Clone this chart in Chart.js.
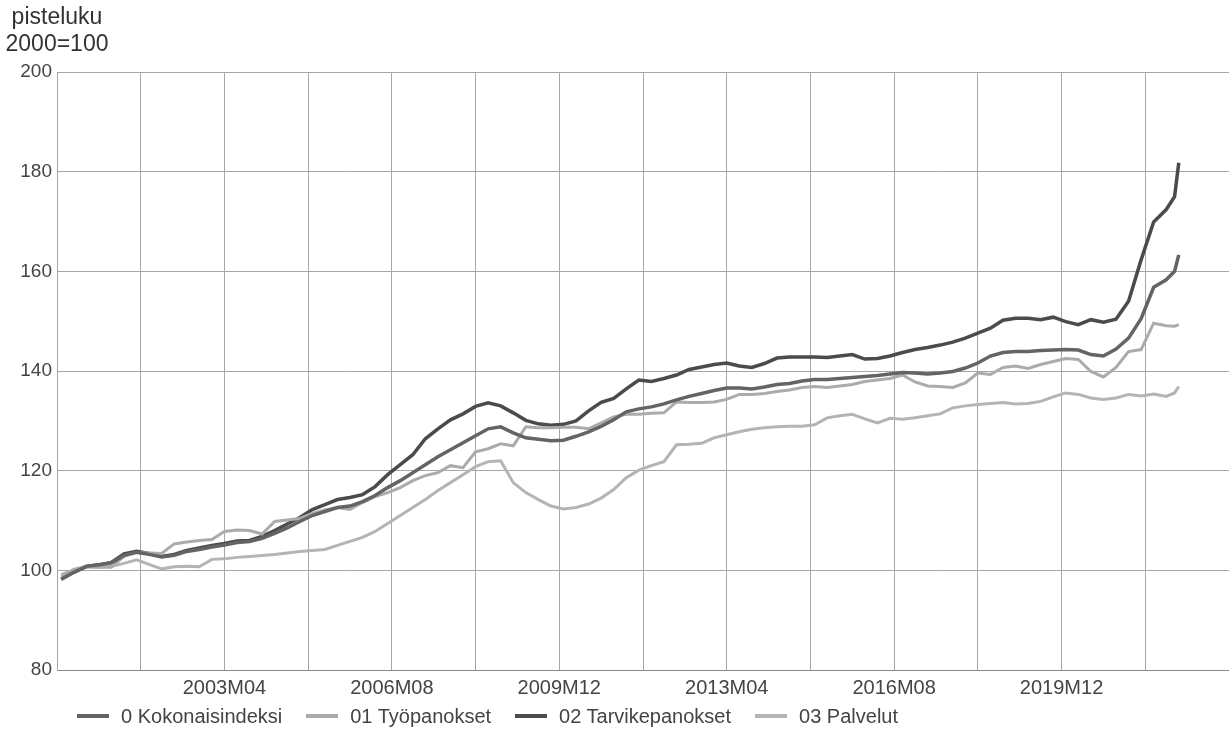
<!DOCTYPE html>
<html>
<head>
<meta charset="utf-8">
<title>Rakennuskustannusindeksi</title>
<script src="https://cdn.jsdelivr.net/npm/chart.js@4.4.1/dist/chart.umd.min.js"></script>
<style>
  html, body { margin: 0; padding: 0; background: #fff; }
  .wrap { position: relative; width: 1229px; height: 733px; overflow: hidden; }
  #chart { display: block; }
  #legend {
    position: absolute; left: 77px; top: 704px;
    display: flex; align-items: center;
    font: 20px "Liberation Sans", Arial, sans-serif; line-height: 24px; color: #444;
    white-space: nowrap;
  }
  #legend .item { display: flex; align-items: center; margin-right: 24px; }
  #legend .swatch { width: 32px; height: 4px; margin-right: 12px; }
</style>
</head>
<body>
<div class="wrap">
  <canvas id="chart" width="1229" height="733"></canvas>
  <div id="legend"></div>
</div>
<script>
// quarterly readings, the last points are the latest months
const months = [
    "2000M01", "2000M04", "2000M07", "2000M10", "2001M01", "2001M04", "2001M07", "2001M10",
    "2002M01", "2002M04", "2002M07", "2002M10", "2003M01", "2003M04", "2003M07", "2003M10",
    "2004M01", "2004M04", "2004M07", "2004M10", "2005M01", "2005M04", "2005M07", "2005M10",
    "2006M01", "2006M04", "2006M07", "2006M10", "2007M01", "2007M04", "2007M07", "2007M10",
    "2008M01", "2008M04", "2008M07", "2008M10", "2009M01", "2009M04", "2009M07", "2009M10",
    "2010M01", "2010M04", "2010M07", "2010M10", "2011M01", "2011M04", "2011M07", "2011M10",
    "2012M01", "2012M04", "2012M07", "2012M10", "2013M01", "2013M04", "2013M07", "2013M10",
    "2014M01", "2014M04", "2014M07", "2014M10", "2015M01", "2015M04", "2015M07", "2015M10",
    "2016M01", "2016M04", "2016M07", "2016M10", "2017M01", "2017M04", "2017M07", "2017M10",
    "2018M01", "2018M04", "2018M07", "2018M10", "2019M01", "2019M04", "2019M07", "2019M10",
    "2020M01", "2020M04", "2020M07", "2020M10", "2021M01", "2021M04", "2021M07", "2021M10",
    "2022M01", "2022M03", "2022M04"
];

const kokonais = [
    98.2, 99.6, 100.8, 101.1, 101.5, 103.0, 103.6, 103.2, 102.7, 103.0,
    103.8, 104.2, 104.7, 105.1, 105.6, 105.8, 106.4, 107.4, 108.5, 109.8,
    111.0, 111.8, 112.6, 112.9, 113.8, 115.0, 116.6, 118.0, 119.6, 121.2,
    122.8, 124.2, 125.6, 127.0, 128.4, 128.8, 127.6, 126.6, 126.3, 126.0,
    126.1, 126.9, 127.8, 128.9, 130.2, 131.8, 132.4, 132.8, 133.4, 134.2,
    134.9, 135.5, 136.1, 136.6, 136.6, 136.4, 136.8, 137.3, 137.5, 138.0,
    138.3, 138.3, 138.5, 138.7, 138.9, 139.1, 139.4, 139.7, 139.6, 139.4,
    139.6, 139.9, 140.6, 141.6, 143.0, 143.7, 143.9, 143.9, 144.1, 144.2,
    144.3, 144.2, 143.3, 143.0, 144.4, 146.6, 150.5, 156.8, 158.3, 160.0,
    163.3
];
const tyopanokset = [
    98.8, 100.2, 100.8, 100.6, 100.6, 102.8, 103.6, 103.5, 103.4, 105.3,
    105.7, 106.0, 106.2, 107.8, 108.1, 108.0, 107.3, 109.8, 110.1, 110.4,
    111.4, 112.1, 112.6, 112.2, 113.6, 114.8, 115.6, 116.6, 118.0, 119.0,
    119.6, 121.0, 120.6, 123.8, 124.4, 125.4, 125.0, 128.8, 128.6, 128.6,
    128.7, 128.7, 128.4, 129.6, 130.8, 131.3, 131.3, 131.5, 131.6, 133.8,
    133.7, 133.7, 133.8, 134.3, 135.3, 135.3, 135.5, 135.9, 136.2, 136.7,
    136.9, 136.7, 137.0, 137.3, 137.9, 138.2, 138.5, 139.2, 137.8, 137.0,
    136.9, 136.7, 137.6, 139.6, 139.3, 140.7, 141.0, 140.5, 141.3, 141.9,
    142.5, 142.3, 139.9, 138.8, 140.7, 143.9, 144.3, 149.6, 149.1, 149.0,
    149.3
];
const tarvikepanokset = [
    98.2, 99.6, 100.8, 101.1, 101.6, 103.3, 103.8, 103.4, 102.8, 103.2,
    104.0, 104.5, 105.0, 105.4, 105.9, 106.0, 106.8, 108.0, 109.3, 110.6,
    112.2, 113.2, 114.2, 114.6, 115.2, 116.8, 119.2, 121.2, 123.2, 126.4,
    128.4, 130.2, 131.4, 132.9, 133.6, 133.0, 131.6, 130.1, 129.4, 129.1,
    129.3, 130.0, 132.0, 133.7, 134.5, 136.4, 138.2, 137.9, 138.5, 139.2,
    140.3, 140.8, 141.3, 141.6, 141.0, 140.7, 141.5, 142.6, 142.8, 142.8,
    142.8, 142.7, 143.0, 143.3, 142.4, 142.5, 143.0, 143.7, 144.3, 144.7,
    145.2, 145.8, 146.6, 147.6, 148.6, 150.2, 150.6, 150.6, 150.3, 150.8,
    149.9, 149.3, 150.3, 149.8, 150.4, 154.0, 162.3, 169.9, 172.4, 175.0,
    181.8
];
const palvelut = [
    99.2, 100.0, 100.6, 100.6, 100.8, 101.4, 102.1, 101.2, 100.3, 100.7,
    100.8, 100.7, 102.2, 102.3, 102.6, 102.8, 103.0, 103.2, 103.5, 103.8,
    104.0, 104.2, 105.0, 105.8, 106.6, 107.8, 109.4, 111.0, 112.6, 114.2,
    116.0, 117.6, 119.2, 120.8, 121.8, 122.0, 117.6, 115.6, 114.2, 112.9,
    112.3, 112.6, 113.3, 114.5, 116.2, 118.6, 120.1, 121.0, 121.8, 125.2,
    125.3, 125.5, 126.6, 127.2, 127.8, 128.3, 128.6, 128.8, 128.9, 128.9,
    129.2, 130.6, 131.0, 131.3, 130.4, 129.6, 130.5, 130.3, 130.6, 131.0,
    131.4, 132.6, 133.0, 133.3, 133.5, 133.7, 133.4, 133.5, 133.9, 134.8,
    135.6, 135.3, 134.6, 134.3, 134.6, 135.3, 135.0, 135.4, 134.9, 135.6,
    136.9
];

const seriesNames = ["0 Kokonaisindeksi", "01 Työpanokset", "02 Tarvikepanokset", "03 Palvelut"];
const seriesColors = ["#646464", "#ababab", "#4b4b4b", "#b4b4b4"];
const seriesWidths = [3.5, 3, 3.5, 3];
const xTickLabels = ["2003M04", "2006M08", "2009M12", "2013M04", "2016M08", "2019M12"];
const yTitleLines = ["pisteluku", "2000=100"];

// month label -> position on x axis (1999M12 = 0)
function monthPos(label) {
    const year = parseInt(label.slice(0, 4), 10);
    const month = parseInt(label.slice(5), 10);
    return (year - 2000) * 12 + month;
}

const xTickPositions = xTickLabels.map(monthPos);
const gridPositions = [];
for (let v = 0; v <= 280; v += 20) gridPositions.push(v);

function toPoints(values) {
    return months.map((m, i) => ({ x: monthPos(m), y: values[i] }));
}

const allSeries = [kokonais, tyopanokset, tarvikepanokset, palvelut];

const yTitlePlugin = {
    id: "yTitle",
    afterDraw(chart) {
        const ctx = chart.ctx;
        ctx.save();
        ctx.font = '23px "Liberation Sans", Arial, sans-serif';
        ctx.fillStyle = "#333";
        ctx.textAlign = "center";
        ctx.textBaseline = "alphabetic";
        ctx.fillText(yTitleLines[0], chart.chartArea.left, 24);
        ctx.fillText(yTitleLines[1], chart.chartArea.left, 51);
        ctx.restore();
    }
};

Chart.defaults.font.family = '"Liberation Sans", Arial, sans-serif';
Chart.defaults.font.size = 20;
Chart.defaults.color = "#444";

const chart = new Chart(document.getElementById("chart").getContext("2d"), {
    type: "line",
    data: {
        datasets: allSeries.map((values, i) => ({
            label: seriesNames[i],
            data: toPoints(values),
            borderColor: seriesColors[i],
            backgroundColor: seriesColors[i],
            borderWidth: seriesWidths[i],
            pointRadius: 0,
            tension: 0,
            fill: false
        }))
    },
    options: {
        responsive: false,
        animation: false,
        devicePixelRatio: 1,
        layout: { padding: { top: 72, right: 0, left: 0, bottom: 35 } },
        plugins: {
            tooltip: { enabled: false },
            legend: { display: false }
        },
        scales: {
            x: {
                type: "linear",
                min: 0,
                max: 280,
                afterBuildTicks: scale => {
                    scale.ticks = gridPositions.map(v => ({ value: v }));
                },
                afterFit: scale => {
                    scale.height = 28;
                    scale.paddingLeft = 0;
                    scale.paddingRight = 0;
                },
                ticks: {
                    autoSkip: false,
                    maxRotation: 0,
                    padding: 6,
                    callback: value => {
                        const k = xTickPositions.indexOf(value);
                        return k >= 0 ? xTickLabels[k] : "";
                    }
                },
                grid: { color: "#a6a6a6", lineWidth: 1, drawTicks: false },
                border: { color: "#888", width: 1 }
            },
            y: {
                min: 80,
                max: 200,
                afterFit: scale => { scale.width = 57; },
                ticks: { stepSize: 20, padding: 5, font: { size: 19 } },
                grid: { color: "#a6a6a6", lineWidth: 1, drawTicks: false },
                border: { color: "#a6a6a6", width: 1 }
            }
        }
    },
    plugins: [yTitlePlugin]
});

// legend built from the chart's datasets
const legendEl = document.getElementById("legend");
chart.data.datasets.forEach(ds => {
    const item = document.createElement("span");
    item.className = "item";
    const swatch = document.createElement("span");
    swatch.className = "swatch";
    swatch.style.background = ds.borderColor;
    const text = document.createElement("span");
    text.textContent = ds.label;
    item.appendChild(swatch);
    item.appendChild(text);
    legendEl.appendChild(item);
});
</script>
</body>
</html>
